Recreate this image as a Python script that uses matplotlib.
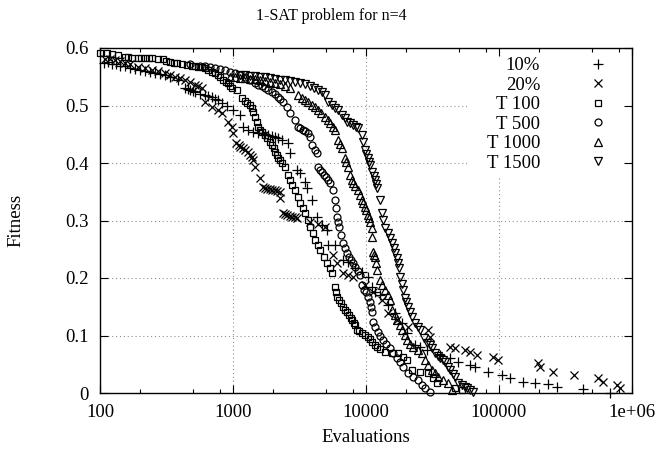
import matplotlib
matplotlib.use("Agg")
import matplotlib.pyplot as plt
from matplotlib.patches import Rectangle
from matplotlib.ticker import FixedLocator, NullFormatter

plt.rcParams['font.family'] = ['Liberation Serif', 'DejaVu Serif']
plt.rcParams['font.size'] = 13.5

# values (evaluations, fitness)
evals_10 = [107, 115, 123, 132, 141, 154, 168, 183, 200, 218, 238, 258, 283, 308, 336, 386,
            436, 460, 476, 500, 518, 565, 616, 645, 696, 730, 771, 828, 901, 1000, 1130, 1190,
            1290, 1410, 1540, 1650, 1740, 1830, 1960, 2070, 2180, 2340, 2590, 2690, 3030, 3200,
            3490, 3620, 3940, 4310, 4660, 5070, 5160, 5830, 6700, 7310, 8240, 9300, 10300, 11100,
            11700, 12700, 14600, 16500, 18600, 20300, 23400, 25500, 28700, 36000, 42800, 49200,
            60500, 66000, 82700, 105000, 121000, 151000, 186000, 233000, 273000, 428000, 683000]
fit_10 = [0.574, 0.576, 0.572, 0.572, 0.569, 0.569, 0.565, 0.563, 0.562, 0.560, 0.558, 0.557,
          0.555, 0.553, 0.550, 0.544, 0.530, 0.529, 0.527, 0.525, 0.523, 0.520, 0.518, 0.516,
          0.515, 0.511, 0.510, 0.504, 0.499, 0.492, 0.483, 0.463, 0.457, 0.454, 0.452, 0.452,
          0.450, 0.449, 0.447, 0.445, 0.443, 0.440, 0.435, 0.417, 0.388, 0.383, 0.367, 0.357,
          0.336, 0.306, 0.292, 0.283, 0.257, 0.257, 0.231, 0.228, 0.217, 0.210, 0.202, 0.184,
          0.176, 0.170, 0.153, 0.139, 0.122, 0.104, 0.083, 0.080, 0.075, 0.066, 0.061, 0.054,
          0.049, 0.045, 0.037, 0.031, 0.026, 0.019, 0.017, 0.016, 0.010, 0.007, 0.0]

evals_20 = [109, 119, 130, 141, 154, 168, 193, 218, 246, 273, 308, 336, 366, 400, 436, 476,
            518, 546, 585, 616, 696, 771, 828, 914, 983, 1000, 1053, 1100, 1130, 1190, 1230,
            1290, 1340, 1390, 1410, 1460, 1600, 1680, 1740, 1800, 1900, 1960, 2070, 2140, 2260,
            2260, 2380, 2460, 2550, 2690, 2780, 2930, 3030, 3800, 4380, 4900, 5630, 6030, 6700,
            7310, 7960, 9800, 11300, 13200, 14600, 17100, 20700, 29300, 30300, 42800, 46700,
            55500, 60500, 68300, 90200, 98300, 196000, 203000, 255000, 366000, 555000, 605000,
            771000, 812000]
fit_20 = [0.581, 0.581, 0.579, 0.577, 0.574, 0.572, 0.567, 0.565, 0.562, 0.560, 0.557, 0.553,
          0.550, 0.548, 0.544, 0.541, 0.536, 0.534, 0.530, 0.506, 0.497, 0.492, 0.487, 0.471,
          0.463, 0.452, 0.435, 0.431, 0.428, 0.426, 0.423, 0.419, 0.414, 0.410, 0.405, 0.393,
          0.374, 0.358, 0.357, 0.355, 0.355, 0.353, 0.353, 0.351, 0.350, 0.339, 0.313, 0.311,
          0.310, 0.308, 0.306, 0.306, 0.304, 0.297, 0.294, 0.289, 0.240, 0.226, 0.209, 0.205,
          0.202, 0.188, 0.176, 0.162, 0.139, 0.127, 0.115, 0.110, 0.097, 0.080, 0.078, 0.075,
          0.071, 0.066, 0.063, 0.057, 0.052, 0.045, 0.037, 0.031, 0.026, 0.019, 0.014, 0.009]

evals_t100 = [100, 113, 123, 137, 154, 162, 174, 193, 204, 218, 234, 246, 273, 299, 316, 336,
              360, 379, 413, 451, 493, 518, 546, 585, 616, 650, 696, 730, 771, 800, 843, 885,
              914, 950, 983, 1071, 1170, 1230, 1270, 1340, 1390, 1410, 1460, 1510, 1540, 1600,
              1650, 1740, 1800, 1900, 1960, 2030, 2070, 2140, 2180, 2260, 2340, 2460, 2590, 2690,
              2780, 2930, 3090, 3200, 3370, 3490, 3680, 3800, 4020, 4160, 4380, 4500, 4830, 5070,
              5340, 5530, 5830, 5930, 6030, 6250, 6470, 6700, 6930, 7180, 7430, 7690, 7830, 8080,
              8240, 8530, 8840, 9300, 9800, 10300, 10700, 11100, 11700, 12100, 12700, 13900,
              15700, 17400, 19000, 20300, 22200, 25500, 29300, 31900, 34200, 46700, 52700]
fit_t100 = [0.591, 0.591, 0.590, 0.588, 0.584, 0.584, 0.583, 0.583, 0.583, 0.583, 0.583, 0.583,
            0.581, 0.581, 0.577, 0.576, 0.574, 0.574, 0.572, 0.570, 0.569, 0.569, 0.567, 0.567,
            0.565, 0.562, 0.558, 0.557, 0.553, 0.550, 0.544, 0.541, 0.539, 0.534, 0.530, 0.527,
            0.513, 0.508, 0.504, 0.501, 0.496, 0.489, 0.480, 0.471, 0.463, 0.457, 0.454, 0.449,
            0.443, 0.437, 0.431, 0.426, 0.419, 0.414, 0.409, 0.405, 0.400, 0.393, 0.379, 0.370,
            0.362, 0.353, 0.341, 0.330, 0.322, 0.313, 0.301, 0.289, 0.278, 0.266, 0.257, 0.249,
            0.237, 0.226, 0.217, 0.209, 0.184, 0.176, 0.167, 0.162, 0.157, 0.150, 0.144, 0.141,
            0.136, 0.130, 0.127, 0.122, 0.118, 0.110, 0.108, 0.104, 0.101, 0.097, 0.094, 0.089,
            0.083, 0.080, 0.077, 0.071, 0.070, 0.070, 0.063, 0.057, 0.040, 0.037, 0.035, 0.026,
            0.017, 0.009, 0.005]

evals_t500 = [476, 565, 616, 672, 730, 800, 870, 950, 1035, 1130, 1230, 1340, 1460, 1540, 1650,
              1740, 1830, 1960, 2070, 2180, 2260, 2380, 2550, 2690, 2930, 3090, 3200, 3370, 3490,
              3680, 3800, 3940, 4160, 4310, 4380, 4500, 4660, 4830, 4990, 5160, 5340, 5630, 5830,
              5930, 6030, 6140, 6250, 6470, 6700, 6930, 7180, 7430, 7690, 7960, 8240, 8680, 8990,
              9300, 9630, 10000, 10300, 10700, 10900, 11100, 11300, 11700, 12300, 12700, 13400,
              14100, 15200, 16000, 17100, 18000, 19000, 20700, 22600, 24600, 26400, 27800, 30300]
fit_t500 = [0.572, 0.569, 0.569, 0.567, 0.565, 0.563, 0.562, 0.558, 0.557, 0.553, 0.550, 0.544,
            0.539, 0.536, 0.534, 0.530, 0.527, 0.523, 0.520, 0.515, 0.511, 0.506, 0.497, 0.487,
            0.475, 0.463, 0.461, 0.457, 0.456, 0.452, 0.445, 0.431, 0.423, 0.417, 0.393, 0.388,
            0.384, 0.379, 0.376, 0.370, 0.365, 0.353, 0.336, 0.322, 0.306, 0.297, 0.289, 0.275,
            0.261, 0.252, 0.243, 0.237, 0.231, 0.226, 0.219, 0.212, 0.205, 0.188, 0.179, 0.176,
            0.167, 0.158, 0.150, 0.141, 0.123, 0.115, 0.106, 0.099, 0.092, 0.085, 0.078, 0.070,
            0.061, 0.054, 0.045, 0.035, 0.028, 0.023, 0.014, 0.009, 0.002]

evals_t1000 = [950, 1035, 1130, 1230, 1340, 1460, 1600, 1740, 1900, 2070, 2260, 2460, 2690,
               3090, 3300, 3490, 3680, 3940, 4160, 4380, 4580, 4900, 5160, 5340, 5630, 5830,
               6140, 6370, 6580, 6930, 7050, 7310, 7560, 7830, 7960, 8240, 8680, 8990, 9300,
               9460, 9800, 10000, 10300, 10500, 10700, 11100, 11100, 11300, 11500, 11700, 11900,
               12100, 12700, 13200, 13900, 14600, 15200, 15700, 16500, 17100, 18000, 18600,
               19600, 20300, 21400, 22600, 24600, 26400, 27800, 29300, 31400, 33000, 34800,
               37900, 41300, 44300]
fit_t1000 = [0.550, 0.550, 0.548, 0.548, 0.546, 0.546, 0.544, 0.543, 0.541, 0.539, 0.537, 0.534,
             0.530, 0.518, 0.513, 0.510, 0.506, 0.501, 0.497, 0.492, 0.487, 0.480, 0.475, 0.470,
             0.463, 0.457, 0.440, 0.433, 0.426, 0.409, 0.402, 0.393, 0.379, 0.370, 0.365, 0.360,
             0.353, 0.344, 0.336, 0.330, 0.323, 0.318, 0.310, 0.304, 0.297, 0.287, 0.271, 0.245,
             0.240, 0.237, 0.226, 0.214, 0.197, 0.188, 0.179, 0.170, 0.162, 0.144, 0.136, 0.127,
             0.118, 0.110, 0.101, 0.092, 0.085, 0.080, 0.075, 0.070, 0.057, 0.049, 0.040, 0.035,
             0.028, 0.023, 0.017, 0.005]

evals_t1500 = [1130, 1230, 1340, 1460, 1600, 1740, 1900, 2070, 2260, 2460, 2690, 2930, 3200,
               3490, 3800, 4080, 4380, 4660, 4900, 5160, 5530, 5830, 6140, 6580, 6930, 7180,
               7560, 7960, 8380, 8680, 9300, 9460, 9800, 10000, 10300, 10500, 10700, 11100,
               11500, 11700, 11900, 12100, 12700, 13200, 13400, 13900, 14600, 15200, 15700,
               16200, 16500, 17100, 17400, 17700, 18000, 18600, 19000, 19600, 20000, 20700,
               21400, 22200, 23400, 24600, 25500, 27300, 28700, 30300, 31400, 33000, 34800,
               36000, 37900, 39300, 41300, 42800, 45100, 46700, 49200, 52700, 55500, 57500,
               60500, 63800]
fit_t1500 = [0.553, 0.553, 0.551, 0.551, 0.550, 0.550, 0.548, 0.546, 0.544, 0.544, 0.543, 0.541,
             0.539, 0.537, 0.534, 0.530, 0.527, 0.523, 0.518, 0.506, 0.501, 0.496, 0.492, 0.483,
             0.478, 0.471, 0.470, 0.466, 0.463, 0.461, 0.449, 0.437, 0.423, 0.416, 0.409, 0.402,
             0.397, 0.384, 0.377, 0.370, 0.363, 0.357, 0.336, 0.313, 0.301, 0.287, 0.278, 0.270,
             0.261, 0.252, 0.243, 0.235, 0.226, 0.217, 0.202, 0.190, 0.179, 0.165, 0.158, 0.150,
             0.141, 0.132, 0.122, 0.115, 0.110, 0.096, 0.087, 0.083, 0.078, 0.070, 0.064, 0.061,
             0.057, 0.054, 0.045, 0.040, 0.033, 0.028, 0.017, 0.014, 0.010, 0.009, 0.005, 0.002]

x_ticks = [100, 1000, 10000, 100000, 1000000]
x_tick_labels = ['100', '1000', '10000', '100000', '1e+06']
y_ticks = [0, 0.1, 0.2, 0.3, 0.4, 0.5, 0.6]
y_tick_labels = ['0', '0.1', '0.2', '0.3', '0.4', '0.5', '0.6']

fig = plt.figure(figsize=(6.63, 4.57), dpi=100)
ax = fig.add_axes([100 / 663, 64 / 457, 532 / 663, 345 / 457])

series = [
    (evals_10, fit_10, '+', 6.5, '10%'),
    (evals_20, fit_20, 'x', 5.8, '20%'),
    (evals_t100, fit_t100, 's', 4.8, 'T 100'),
    (evals_t500, fit_t500, 'o', 5.0, 'T 500'),
    (evals_t1000, fit_t1000, '^', 5.2, 'T 1000'),
    (evals_t1500, fit_t1500, 'v', 5.2, 'T 1500'),
]
for xs, ys, mk, ms, lab in series:
    ax.plot(xs, ys, linestyle='none', marker=mk, markersize=ms, markerfacecolor='none',
            markeredgecolor='black', markeredgewidth=0.9, label=lab, clip_on=False, zorder=2)

ax.set_xscale('log')
ax.set_xlim(100, 1000000)
ax.set_ylim(0, 0.6)

ax.xaxis.set_major_locator(FixedLocator(x_ticks))
ax.set_xticklabels(x_tick_labels)
minor = [m * 10 ** e for e in range(2, 6) for m in (2, 5, 8)]
ax.xaxis.set_minor_locator(FixedLocator(minor))
ax.xaxis.set_minor_formatter(NullFormatter())
ax.set_yticks(y_ticks)
ax.set_yticklabels(y_tick_labels)

ax.tick_params(which='both', direction='in', top=True, right=True, width=0.8)
ax.tick_params(which='major', length=6, pad=8)
ax.tick_params(which='minor', length=3)
for s in ax.spines.values():
    s.set_linewidth(1.0)

# dotted grid, drawn under a white key box (gnuplot style)
grid_style = dict(color='#909090', linestyle=(0, (1, 2.5)), linewidth=0.8, zorder=0.4)
for xv in x_ticks[1:-1]:
    ax.axvline(xv, **grid_style)
for yv in y_ticks[1:-1]:
    ax.axhline(yv, **grid_style)
ax.add_patch(Rectangle((0.690, 0.626), 0.31, 0.374, transform=ax.transAxes,
                       facecolor='white', edgecolor='none', zorder=1))

leg = ax.legend(loc='upper right', bbox_to_anchor=(0.982, 0.974), markerfirst=False,
                frameon=False, borderaxespad=0.0, borderpad=0.0, handlelength=2.6,
                handletextpad=1.79, labelspacing=0.13, numpoints=1, fontsize=13.5)
leg._legend_handle_box.get_children()[0].align = 'right'

fig.text(0.5, 1 - 16 / 457, '1-SAT problem for n=4', ha='center', va='center', fontsize=11.5)
fig.text(366 / 663, 1 - 438 / 457, 'Evaluations', ha='center', va='center')
fig.text(16 / 663, 1 - 220 / 457, 'Fitness', ha='center', va='center', rotation=90)

fig.savefig('out.png', dpi=100)
